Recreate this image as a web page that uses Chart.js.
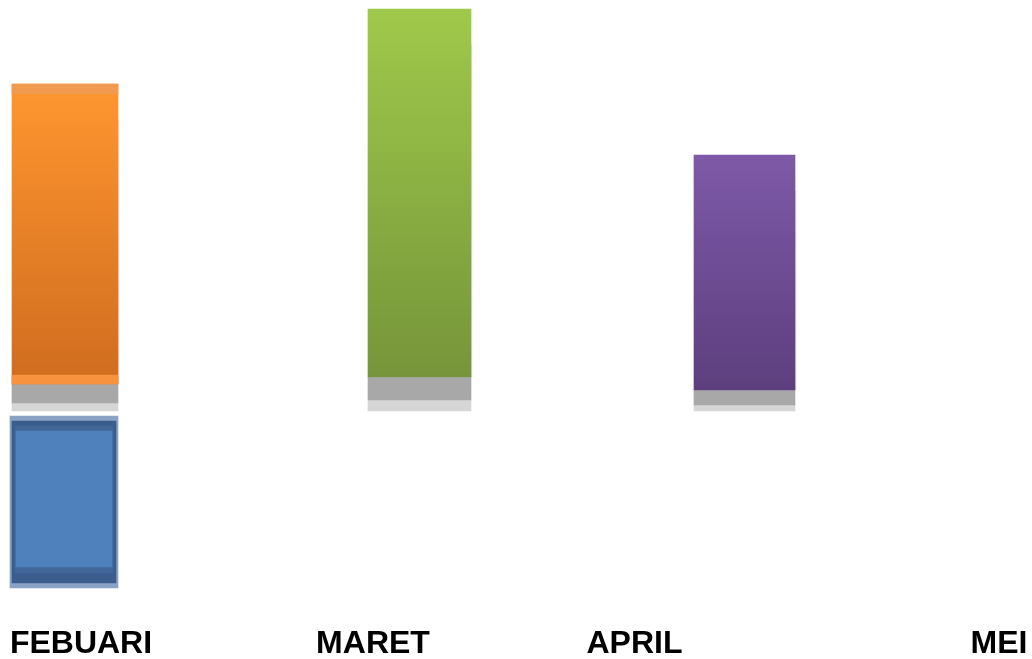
<!DOCTYPE html>
<html>
<head>
<meta charset="utf-8">
<script src="https://cdn.jsdelivr.net/npm/chart.js@4.4.1/dist/chart.umd.min.js"></script>
<style>
html,body{margin:0;padding:0;background:#fff;overflow:hidden;}
#wrap{width:1032px;height:659px;position:relative;}
canvas{display:block;}
</style>
</head>
<body>
<div id="wrap"><canvas id="c"></canvas></div>
<script>
// ---- data ----
const labels = ['FEBUARI', 'MARET', 'APRIL', 'MEI'];
const labelX = [81, 373, 634.5, 999];          // x-axis position of each tick label
const barX = [65, 419.5, 744.5];               // FEBUARI, MARET, APRIL bars
const barTop = [81.75, 100.5, 64];             // top of coloured bar
const barBase = [6.75, 8.5, 5.25];             // bottom of coloured bar
const shadowMid = [2, 2.75, 1.5];              // dark-grey / light-grey split of floor shadow
const floor = [0, 0, 0];
const negX = [64];                              // FEBUARI negative bar
const negOuter = [[-1.25, -44.25]];
const negBorder = [[-2.5, -43]];
const negInner = [[-3.75, -40.5]];
const negFill = [[-5, -39]];

// ---- styles ----
const widths = [106, 103, 101];
const grads = [
  ['#FF962F', '#CF6C1F'],
  ['#9FC94A', '#76953A'],
  ['#7E59A7', '#5D3F7E']
];

function vGrad(context, topVal, botVal, c1, c2) {
  const chart = context.chart;
  const area = chart.chartArea;
  if (!area) return c1;
  const y = chart.scales.y;
  const y1 = y.getPixelForValue(topVal), y2 = y.getPixelForValue(botVal);
  const g = chart.ctx.createLinearGradient(0, y1, 0, y2);
  g.addColorStop(0, c1);
  g.addColorStop(1, c2);
  return g;
}

const datasets = [];
barX.forEach((x, i) => {
  // floor shadow light
  datasets.push({ data: [{x: x, y: [floor[i], shadowMid[i]]}], backgroundColor: '#D6D6D6', barThickness: widths[i] });
  // floor shadow dark
  datasets.push({ data: [{x: x, y: [shadowMid[i], barBase[i]]}], backgroundColor: '#A8A8A8', barThickness: widths[i] });
  // right side soft shadow
  datasets.push({ data: [{x: x + 2, y: [barBase[i], barTop[i] - 9]}], backgroundColor: 'rgba(215,215,215,0.6)', barThickness: widths[i] - 2 });
  // coloured bar
  datasets.push({
    data: [{x: x, y: [barBase[i], barTop[i]]}],
    backgroundColor: (ctx) => vGrad(ctx, barTop[i], barBase[i], grads[i][0], grads[i][1]),
    barThickness: widths[i]
  });
});
// orange rim highlights
datasets.push({ data: [{x: barX[0], y: [barTop[0] - 2.5, barTop[0]]}], backgroundColor: 'rgba(240,155,85,0.9)', barThickness: widths[0] });
datasets.push({ data: [{x: barX[0], y: [barBase[0], barBase[0] + 2.25]}], backgroundColor: '#F8923E', barThickness: widths[0] });

// negative (blue) bar
datasets.push({ data: negX.map((x, i) => ({x: x, y: negOuter[i]})), backgroundColor: '#8AA3C4', barThickness: 108 });
datasets.push({ data: negX.map((x, i) => ({x: x, y: negBorder[i]})), backgroundColor: '#3B5D8D', barThickness: 104 });
datasets.push({ data: negX.map((x, i) => ({x: x, y: negInner[i]})), backgroundColor: '#416799', barThickness: 98 });
datasets.push({ data: negX.map((x, i) => ({x: x, y: negFill[i]})), backgroundColor: '#4F81BD', barThickness: 96 });

// later datasets are drawn on top
datasets.forEach((d, i) => { d.grouped = false; d.borderWidth = 0; d.order = datasets.length - i; });

new Chart(document.getElementById('c'), {
  type: 'bar',
  data: { datasets: datasets },
  options: {
    responsive: true,
    maintainAspectRatio: false,
    animation: false,
    layout: { padding: 0 },
    plugins: { legend: { display: false }, tooltip: { enabled: false } },
    scales: {
      x: {
        type: 'linear',
        offset: false,
        min: 0, max: 1032,
        grid: { display: false, drawTicks: false, offset: false },
        border: { display: false },
        afterFit: (s) => { s.height = 50; s.paddingLeft = 0; s.paddingRight = 0; },
        afterBuildTicks: (s) => { s.ticks = labelX.map(v => ({ value: v })); },
        ticks: {
          autoSkip: false, maxRotation: 0, padding: 16,
          color: '#000',
          font: { family: '"Liberation Sans", Arial, sans-serif', size: 32, weight: 'bold' },
          callback: (v, i) => labels[i]
        }
      },
      y: {
        display: false,
        min: -49.5, max: 102.75
      }
    }
  }
});
</script>
</body>
</html>
